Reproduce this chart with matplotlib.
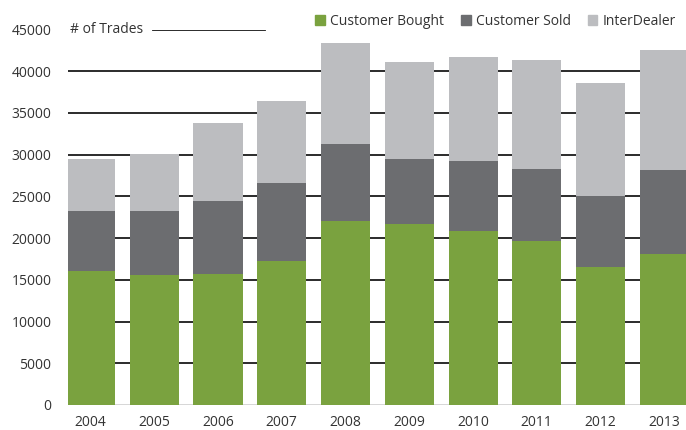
import matplotlib
matplotlib.use("Agg")
import matplotlib.pyplot as plt
from matplotlib.patches import Patch
from matplotlib.transforms import blended_transform_factory
import numpy as np

years = ["2004", "2005", "2006", "2007", "2008", "2009", "2010", "2011", "2012", "2013"]
customer_bought = [16100, 15550, 15750, 17200, 22000, 21750, 20800, 19700, 16500, 18150]
customer_sold_top = [23250, 23250, 24450, 26600, 31250, 29450, 29200, 28250, 25000, 28150]
total = [29450, 30050, 33800, 36450, 43400, 41100, 41700, 41350, 38600, 42550]
customer_sold = [s - b for s, b in zip(customer_sold_top, customer_bought)]
interdealer = [t - s for t, s in zip(total, customer_sold_top)]
yticks = [0, 5000, 10000, 15000, 20000, 25000, 30000, 35000, 40000, 45000]

c_green = "#7AA23F"
c_dark = "#6C6D70"
c_light = "#BCBDC0"
txt = "#333333"

plt.rcParams["font.family"] = ["Open Sans", "DejaVu Sans"]

fig = plt.figure(figsize=(6.86, 4.30), dpi=100)
W, H = 686, 430
ax = fig.add_axes([68 / W, 25 / H, (686 - 68) / W, (405 - 29.5) / H])

x = np.arange(len(years))
bw = 0.77
ax.bar(x, customer_bought, bw, color=c_green, zorder=3)
ax.bar(x, customer_sold, bw, bottom=customer_bought, color=c_dark, zorder=3)
ax.bar(x, interdealer, bw, bottom=customer_sold_top, color=c_light, zorder=3)

for v in yticks[1:-1]:
    ax.axhline(v, color="#1a1a1a", lw=1.3, zorder=1)
ax.axhline(0, color="#333333", lw=1.0, zorder=1)
ax.axhline(45000, xmin=(153 - 68) / 618, xmax=(265 - 68) / 618, color="#1a1a1a", lw=1.3, zorder=1)

ax.set_xlim(-0.353, 9.34)
ax.set_ylim(0, 45000)
ax.set_xticks(x)
ax.set_xticklabels(years)
ax.set_yticks(yticks)
ax.set_yticklabels([str(v) for v in yticks])
ax.tick_params(axis="both", length=0, labelsize=10, colors=txt)
ax.tick_params(axis="y", pad=12)
ax.tick_params(axis="x", pad=7)
for s in ax.spines.values():
    s.set_visible(False)

tr = blended_transform_factory(ax.transAxes, ax.transData)
ax.text(2 / 618, 45000, "# of Trades", transform=tr, ha="left", va="center",
        fontsize=10, color=txt, clip_on=False)

handles = [Patch(color=c_green, label="Customer Bought"),
           Patch(color=c_dark, label="Customer Sold"),
           Patch(color=c_light, label="InterDealer")]
fig.legend(handles=handles, loc="upper right", bbox_to_anchor=(1.0, 0.99), ncol=3,
           frameon=False, fontsize=10, handlelength=0.7, handleheight=0.7,
           handletextpad=0.4, columnspacing=1.2, labelcolor=txt, borderaxespad=0.3)

fig.savefig("out.png", dpi=100)
